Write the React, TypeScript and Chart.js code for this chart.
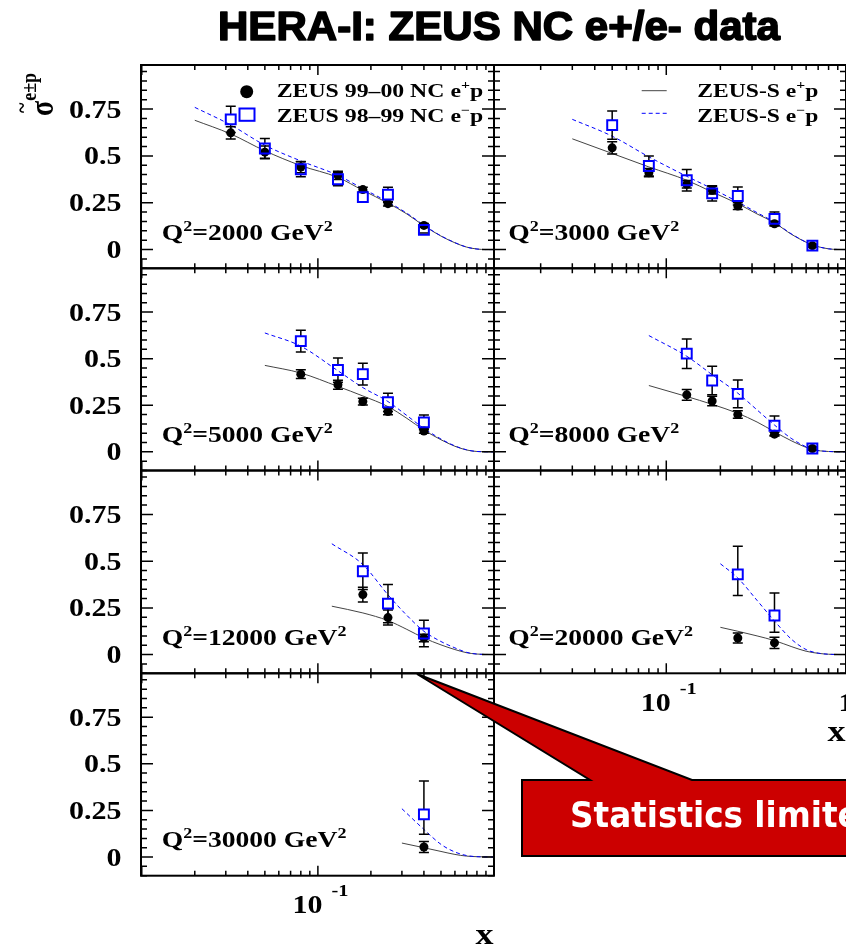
import React, { useEffect, useRef } from "react";
import { Chart, registerables } from "chart.js";

Chart.register(...registerables);

const PAGE_W = 846;
const PAGE_H = 944;

// ---------------- data ----------------
const Q2_LABELS = ["2000", "3000", "5000", "8000", "12000", "20000", "30000"];

// Q2 = 2000
const x1 = [0.032, 0.05, 0.08, 0.13, 0.18, 0.25, 0.4];
const ep1 = [0.623, 0.52, 0.44, 0.396, 0.32, 0.245, 0.129];
const epErr1 = [0.033, 0.033, 0.03, 0.022, 0.012, 0.012, 0.01];
const em1 = [0.695, 0.539, 0.429, 0.375, 0.28, 0.293, 0.105];
const emErr1 = [0.07, 0.054, 0.04, 0.035, 0.028, 0.04, 0.016];
const fitX1 = [0.02, 0.032, 0.05, 0.08, 0.13, 0.18, 0.25, 0.32, 0.4, 0.5, 0.6, 0.7, 0.8, 0.9, 1.0];
const fitEp1 = [0.69, 0.617, 0.527, 0.448, 0.385, 0.316, 0.248, 0.19, 0.127, 0.072, 0.036, 0.013, 0.003, 0.0, 0.0];
const fitEm1 = [0.759, 0.665, 0.557, 0.473, 0.396, 0.325, 0.254, 0.194, 0.13, 0.073, 0.037, 0.013, 0.003, 0.0, 0.0];

// Q2 = 3000
const x2 = [0.05, 0.08, 0.13, 0.18, 0.25, 0.4, 0.65];
const ep2 = [0.543, 0.41, 0.348, 0.316, 0.232, 0.138, 0.021];
const epErr2 = [0.033, 0.022, 0.02, 0.02, 0.018, 0.012, 0.006];
const em2 = [0.664, 0.446, 0.37, 0.3, 0.286, 0.164, 0.021];
const emErr2 = [0.075, 0.054, 0.057, 0.041, 0.048, 0.036, 0.008];
const fitX2 = [0.03, 0.05, 0.08, 0.13, 0.18, 0.25, 0.32, 0.4, 0.5, 0.65, 0.8, 0.9, 1.0];
const fitEp2 = [0.591, 0.513, 0.441, 0.37, 0.307, 0.245, 0.19, 0.143, 0.08, 0.025, 0.004, 0.0005, 0.0];
const fitEm2 = [0.695, 0.605, 0.495, 0.391, 0.325, 0.254, 0.197, 0.146, 0.082, 0.025, 0.004, 0.0005, 0.0];

// Q2 = 5000
const x3 = [0.08, 0.13, 0.18, 0.25, 0.4];
const ep3 = [0.417, 0.36, 0.27, 0.216, 0.112];
const epErr3 = [0.024, 0.024, 0.018, 0.017, 0.012];
const em3 = [0.594, 0.439, 0.417, 0.266, 0.158];
const emErr3 = [0.058, 0.065, 0.058, 0.049, 0.04];
const fitX3 = [0.05, 0.08, 0.13, 0.18, 0.25, 0.32, 0.4, 0.5, 0.6, 0.7, 0.8, 1.0];
const fitEp3 = [0.464, 0.423, 0.351, 0.3, 0.243, 0.18, 0.117, 0.065, 0.03, 0.01, 0.002, 0.0];
const fitEm3 = [0.638, 0.567, 0.435, 0.345, 0.27, 0.195, 0.126, 0.069, 0.032, 0.011, 0.002, 0.0];

// Q2 = 8000
const x4 = [0.13, 0.18, 0.25, 0.4, 0.65];
const ep4 = [0.306, 0.273, 0.2, 0.095, 0.018];
const epErr4 = [0.029, 0.025, 0.02, 0.01, 0.006];
const em4 = [0.527, 0.383, 0.311, 0.14, 0.018];
const emErr4 = [0.079, 0.077, 0.074, 0.052, 0.01];
const fitX4 = [0.08, 0.13, 0.18, 0.25, 0.32, 0.4, 0.5, 0.65, 0.8, 1.0];
const fitEp4 = [0.356, 0.297, 0.255, 0.207, 0.16, 0.108, 0.058, 0.013, 0.002, 0.0];
const fitEm4 = [0.624, 0.513, 0.414, 0.315, 0.225, 0.144, 0.07, 0.014, 0.002, 0.0];

// Q2 = 12000
const x5 = [0.18, 0.25, 0.4];
const ep5 = [0.321, 0.198, 0.089];
const epErr5 = [0.04, 0.04, 0.02];
const em5 = [0.446, 0.273, 0.113];
const emErr5 = [0.098, 0.102, 0.071];
const fitX5 = [0.12, 0.18, 0.25, 0.32, 0.4, 0.5, 0.6, 0.7, 0.8, 1.0];
const fitEp5 = [0.259, 0.223, 0.182, 0.135, 0.089, 0.052, 0.027, 0.01, 0.003, 0.0];
const fitEm5 = [0.593, 0.482, 0.32, 0.21, 0.125, 0.07, 0.036, 0.012, 0.003, 0.0];

// Q2 = 20000
const x6 = [0.25, 0.4];
const ep6 = [0.089, 0.063];
const epErr6 = [0.027, 0.03];
const em6 = [0.429, 0.209];
const emErr6 = [0.151, 0.121];
const emErrLo6 = [0.113, 0.09];
const fitX6 = [0.2, 0.25, 0.32, 0.4, 0.5, 0.6, 0.7, 0.8, 1.0];
const fitEp6 = [0.146, 0.125, 0.1, 0.075, 0.042, 0.018, 0.007, 0.002, 0.0];
const fitEm6 = [0.486, 0.41, 0.29, 0.18, 0.08, 0.027, 0.008, 0.002, 0.0];

// Q2 = 30000
const x7 = [0.4];
const ep7 = [0.054];
const epErr7 = [0.03];
const em7 = [0.229];
const emErr7 = [0.179];
const emErrLo7 = [0.107];
const fitX7 = [0.3, 0.4, 0.5, 0.6, 0.7, 0.8, 1.0];
const fitEp7 = [0.075, 0.05, 0.03, 0.014, 0.005, 0.002, 0.0];
const fitEm7 = [0.259, 0.148, 0.068, 0.027, 0.008, 0.002, 0.0];

const Y_TICK_LABELS = ["0", "0.25", "0.5", "0.75"];
const Y_TICK_VALUES = [0, 0.25, 0.5, 0.75];

// ---------------- layout / style ----------------
const COL_LEFT = [141, 494];
const COL_RIGHT = [494, 846];
const COL_XMIN = [0.0099, 0.011];
const ROW_TOP = [65, 268.3, 470.5, 673.3];
const ROW_BOTTOM = [268.3, 470.5, 673.3, 875.7];
const Y_MIN = -0.1;
const Y_MAX = 0.985;

const SERIF = '"Liberation Serif", "Times New Roman", serif';
const SANS_NARROW = '"Liberation Sans Narrow", "Liberation Sans", Arial, sans-serif';
const CALLOUT_FONT = '"Comic Sans MS", "DejaVu Sans", sans-serif';
const SX = 1.2;
const BLUE = "#0000ff";
const GRAY = "#444444";

type Panel = {
  q2: string;
  x: number[];
  ep: number[];
  epErr: number[];
  em: number[];
  emUp: number[];
  emDn: number[];
  fx: number[];
  fep: number[];
  fem: number[];
};

const PANELS: Panel[] = [
  { q2: Q2_LABELS[0], x: x1, ep: ep1, epErr: epErr1, em: em1, emUp: emErr1, emDn: emErr1, fx: fitX1, fep: fitEp1, fem: fitEm1 },
  { q2: Q2_LABELS[1], x: x2, ep: ep2, epErr: epErr2, em: em2, emUp: emErr2, emDn: emErr2, fx: fitX2, fep: fitEp2, fem: fitEm2 },
  { q2: Q2_LABELS[2], x: x3, ep: ep3, epErr: epErr3, em: em3, emUp: emErr3, emDn: emErr3, fx: fitX3, fep: fitEp3, fem: fitEm3 },
  { q2: Q2_LABELS[3], x: x4, ep: ep4, epErr: epErr4, em: em4, emUp: emErr4, emDn: emErr4, fx: fitX4, fep: fitEp4, fem: fitEm4 },
  { q2: Q2_LABELS[4], x: x5, ep: ep5, epErr: epErr5, em: em5, emUp: emErr5, emDn: emErr5, fx: fitX5, fep: fitEp5, fem: fitEm5 },
  { q2: Q2_LABELS[5], x: x6, ep: ep6, epErr: epErr6, em: em6, emUp: emErr6, emDn: emErrLo6, fx: fitX6, fep: fitEp6, fem: fitEm6 },
  { q2: Q2_LABELS[6], x: x7, ep: ep7, epErr: epErr7, em: em7, emUp: emErr7, emDn: emErrLo7, fx: fitX7, fep: fitEp7, fem: fitEm7 },
];

// ---------------- text helpers ----------------
type Part = { t: string; sup?: boolean };
type RichOpts = {
  fs: number;
  supFs?: number;
  supRise?: number;
  family?: string;
  weight?: string;
  sx?: number;
  fit?: number;
  align?: "left" | "right" | "center";
  color?: string;
  stroke?: number;
};

function drawRich(ctx: CanvasRenderingContext2D, parts: Part[], x: number, y: number, o: RichOpts) {
  const family = o.family || SERIF;
  const weight = o.weight || "bold";
  const supFs = o.supFs || Math.round(o.fs * 0.65);
  const supRise = o.supRise ?? o.fs * 0.4;
  ctx.save();
  const widths: number[] = [];
  let w = 0;
  for (const p of parts) {
    ctx.font = `${weight} ${p.sup ? supFs : o.fs}px ${family}`;
    const m = ctx.measureText(p.t).width;
    widths.push(m);
    w += m;
  }
  const sx = o.fit ? o.fit / w : o.sx ?? SX;
  const total = w * sx;
  const x0 = o.align === "right" ? x - total : o.align === "center" ? x - total / 2 : x;
  ctx.translate(x0, y);
  ctx.scale(sx, 1);
  ctx.fillStyle = o.color || "#000";
  ctx.strokeStyle = o.color || "#000";
  ctx.textAlign = "left";
  ctx.textBaseline = "alphabetic";
  let cx = 0;
  parts.forEach((p, i) => {
    ctx.font = `${weight} ${p.sup ? supFs : o.fs}px ${family}`;
    const yy = p.sup ? -supRise : 0;
    ctx.fillText(p.t, cx, yy);
    if (o.stroke) {
      ctx.lineWidth = o.stroke;
      ctx.lineJoin = "round";
      ctx.strokeText(p.t, cx, yy);
    }
    cx += widths[i];
  });
  ctx.restore();
}

// ---------------- drawing helpers ----------------
function drawErrors(chart: any, xs: number[], ys: number[], up: number[], dn: number[], gap: number) {
  const ctx: CanvasRenderingContext2D = chart.ctx;
  const xS = chart.scales.x;
  const yS = chart.scales.y;
  ctx.save();
  ctx.strokeStyle = "#000";
  ctx.lineWidth = 1.5;
  for (let i = 0; i < xs.length; i++) {
    const px = xS.getPixelForValue(xs[i]);
    const py = yS.getPixelForValue(ys[i]);
    const pt = yS.getPixelForValue(ys[i] + up[i]);
    const pb = yS.getPixelForValue(ys[i] - dn[i]);
    ctx.beginPath();
    if (py - gap > pt) {
      ctx.moveTo(px, pt);
      ctx.lineTo(px, py - gap);
    }
    if (py + gap < pb) {
      ctx.moveTo(px, py + gap);
      ctx.lineTo(px, pb);
    }
    ctx.moveTo(px - 5, pt);
    ctx.lineTo(px + 5, pt);
    ctx.moveTo(px - 5, pb);
    ctx.lineTo(px + 5, pb);
    ctx.stroke();
  }
  ctx.restore();
}

function drawFrame(chart: any, xmin: number) {
  const ctx: CanvasRenderingContext2D = chart.ctx;
  const a = chart.chartArea;
  const xS = chart.scales.x;
  const yS = chart.scales.y;
  ctx.save();
  ctx.strokeStyle = "#000";
  ctx.lineWidth = 1.5;
  ctx.beginPath();
  for (let k = -2; k <= 19; k++) {
    const v = k * 0.05;
    if (v < Y_MIN - 1e-9 || v > Y_MAX + 1e-9) continue;
    const py = yS.getPixelForValue(v);
    const len = k % 5 === 0 ? 12 : 6;
    ctx.moveTo(a.left, py);
    ctx.lineTo(a.left + len, py);
    ctx.moveTo(a.right, py);
    ctx.lineTo(a.right - len, py);
  }
  for (let e = -2; e <= 0; e++) {
    for (let m = 1; m <= 9; m++) {
      const v = m * Math.pow(10, e);
      if (v < xmin - 1e-12 || v > 1.0001) continue;
      const px = xS.getPixelForValue(v);
      const len = m === 1 ? 10 : 5;
      ctx.moveTo(px, a.bottom);
      ctx.lineTo(px, a.bottom - len);
      ctx.moveTo(px, a.top);
      ctx.lineTo(px, a.top + len);
    }
  }
  ctx.stroke();
  ctx.lineWidth = 2;
  ctx.strokeRect(a.left, a.top, a.right - a.left, a.bottom - a.top);
  ctx.restore();
}

function drawYLabels(chart: any) {
  const ctx: CanvasRenderingContext2D = chart.ctx;
  const yS = chart.scales.y;
  Y_TICK_VALUES.forEach((v, i) => {
    const py = yS.getPixelForValue(v);
    drawRich(ctx, [{ t: Y_TICK_LABELS[i] }], 121.5, py + 8.5, { fs: 25, align: "right" });
  });
}

function drawXLabels(chart: any, col: number) {
  const ctx: CanvasRenderingContext2D = chart.ctx;
  const a = chart.chartArea;
  const xS = chart.scales.x;
  const t = xS.getPixelForValue(0.1);
  drawRich(ctx, [{ t: "10" }], t + 4.5, a.bottom + 37.5, { fs: 25, align: "right" });
  drawRich(ctx, [{ t: "-1" }], t + 13.5, a.bottom + 20.5, { fs: 17, align: "left" });
  if (col === 1) {
    drawRich(ctx, [{ t: "1" }], xS.getPixelForValue(1), a.bottom + 37.5, { fs: 25, align: "center" });
  }
  drawRich(ctx, [{ t: "x" }], a.right - 0.5, a.bottom + 68, { fs: 30, align: "right" });
}

function drawQ2(chart: any, col: number, q2: string) {
  const ctx: CanvasRenderingContext2D = chart.ctx;
  const a = chart.chartArea;
  const x0 = col === 0 ? 161.7 : 508.3;
  drawRich(
    ctx,
    [{ t: "Q" }, { t: "2", sup: true }, { t: `=${q2} GeV` }, { t: "2", sup: true }],
    x0,
    a.bottom - 28.8,
    { fs: 23, supFs: 15, supRise: 9 }
  );
}

function drawTitle(ctx: CanvasRenderingContext2D) {
  drawRich(ctx, [{ t: "HERA-I: ZEUS NC e+/e- data" }], 218, 40, {
    fs: 41,
    family: SANS_NARROW,
    weight: "bold",
    fit: 562,
    stroke: 1.6,
  });
}

function drawYTitle(ctx: CanvasRenderingContext2D) {
  ctx.save();
  ctx.translate(53, 116);
  ctx.rotate(-Math.PI / 2);
  ctx.scale(1, 1.2);
  ctx.fillStyle = "#000";
  ctx.textBaseline = "alphabetic";
  ctx.textAlign = "left";
  ctx.font = `bold 28px ${SERIF}`;
  ctx.fillText("σ", 0, 0);
  const sw = ctx.measureText("σ").width;
  ctx.font = `bold 18px ${SERIF}`;
  ctx.fillText("e±p", sw, -14);
  ctx.font = `bold 20px ${SERIF}`;
  ctx.fillText("~", 3, -20);
  ctx.restore();
}

function drawLegendData(ctx: CanvasRenderingContext2D) {
  ctx.save();
  ctx.fillStyle = "#000";
  ctx.beginPath();
  ctx.arc(246.7, 91.7, 6.5, 0, Math.PI * 2);
  ctx.fill();
  ctx.strokeStyle = BLUE;
  ctx.lineWidth = 2;
  ctx.strokeRect(239.5, 108.5, 15, 12.3);
  ctx.restore();
  drawRich(ctx, [{ t: "ZEUS 99–00 NC e" }, { t: "+", sup: true }, { t: "p" }], 276.7, 96.7, {
    fs: 18,
    supFs: 12,
    supRise: 7.5,
    fit: 206.5,
  });
  drawRich(ctx, [{ t: "ZEUS 98–99 NC e" }, { t: "−", sup: true }, { t: "p" }], 276.7, 121.7, {
    fs: 18,
    supFs: 12,
    supRise: 7.5,
    fit: 206.5,
  });
}

function drawLegendFit(ctx: CanvasRenderingContext2D) {
  ctx.save();
  ctx.lineWidth = 1;
  ctx.strokeStyle = GRAY;
  ctx.beginPath();
  ctx.moveTo(641.7, 90.7);
  ctx.lineTo(666.7, 90.7);
  ctx.stroke();
  ctx.strokeStyle = BLUE;
  ctx.setLineDash([4, 3]);
  ctx.beginPath();
  ctx.moveTo(641.7, 113.3);
  ctx.lineTo(666.7, 113.3);
  ctx.stroke();
  ctx.restore();
  drawRich(ctx, [{ t: "ZEUS-S e" }, { t: "+", sup: true }, { t: "p" }], 697.3, 96.7, {
    fs: 18,
    supFs: 12,
    supRise: 7.5,
    fit: 121,
  });
  drawRich(ctx, [{ t: "ZEUS-S e" }, { t: "−", sup: true }, { t: "p" }], 697.3, 121.7, {
    fs: 18,
    supFs: 12,
    supRise: 7.5,
    fit: 121,
  });
}

function drawCallout(ctx: CanvasRenderingContext2D) {
  ctx.save();
  ctx.beginPath();
  ctx.moveTo(522, 780);
  ctx.lineTo(590, 780);
  ctx.lineTo(417, 674);
  ctx.lineTo(692, 780);
  ctx.lineTo(852, 780);
  ctx.lineTo(852, 856);
  ctx.lineTo(522, 856);
  ctx.closePath();
  ctx.fillStyle = "#cc0000";
  ctx.fill();
  ctx.lineWidth = 2;
  ctx.lineJoin = "miter";
  ctx.strokeStyle = "#000";
  ctx.stroke();
  ctx.font = `bold 36px ${CALLOUT_FONT}`;
  const w = ctx.measureText("Statistics").width;
  const sx = 173 / w;
  ctx.translate(570, 826.5);
  ctx.scale(sx, 1);
  ctx.fillStyle = "#ffffff";
  ctx.textAlign = "left";
  ctx.textBaseline = "alphabetic";
  ctx.fillText("Statistics limited", 0, 0);
  ctx.restore();
}

// ---------------- chart config ----------------
function makeConfig(p: Panel, idx: number): any {
  const col = idx % 2;
  const row = Math.floor(idx / 2);
  const xmin = COL_XMIN[col];
  const pts = (xs: number[], ys: number[]) => xs.map((x, i) => ({ x, y: ys[i] }));

  const plugin = {
    id: "panel" + idx,
    beforeDatasetDraw(chart: any, args: any) {
      const ds = chart.data.datasets[args.index];
      if (ds.errKind === "em") drawErrors(chart, p.x, p.em, p.emUp, p.emDn, 5);
      if (ds.errKind === "ep") drawErrors(chart, p.x, p.ep, p.epErr, p.epErr, 0);
    },
    afterDraw(chart: any) {
      const ctx: CanvasRenderingContext2D = chart.ctx;
      drawFrame(chart, xmin);
      if (col === 0) drawYLabels(chart);
      drawQ2(chart, col, p.q2);
      if (idx === 5 || idx === 6) drawXLabels(chart, col);
      if (idx === 0) {
        drawTitle(ctx);
        drawYTitle(ctx);
        drawLegendData(ctx);
      }
      if (idx === 1) drawLegendFit(ctx);
      if (idx === 6) drawCallout(ctx);
    },
  };

  return {
    type: "line",
    data: {
      datasets: [
        {
          label: "ZEUS 98-99 NC e-p",
          data: pts(p.x, p.em),
          showLine: false,
          pointStyle: "rect",
          pointRadius: 7,
          pointBorderWidth: 2,
          pointBorderColor: BLUE,
          pointBackgroundColor: "rgba(0,0,0,0)",
          order: 0,
          errKind: "em",
        },
        {
          label: "ZEUS 99-00 NC e+p",
          data: pts(p.x, p.ep),
          showLine: false,
          pointStyle: "circle",
          pointRadius: 4.5,
          pointBorderWidth: 0,
          pointBackgroundColor: "#000",
          pointBorderColor: "#000",
          order: 1,
          errKind: "ep",
        },
        {
          label: "ZEUS-S e-p",
          data: pts(p.fx, p.fem),
          borderColor: BLUE,
          borderWidth: 1,
          borderDash: [4, 3],
          pointRadius: 0,
          fill: false,
          cubicInterpolationMode: "monotone",
          order: 2,
        },
        {
          label: "ZEUS-S e+p",
          data: pts(p.fx, p.fep),
          borderColor: GRAY,
          borderWidth: 1,
          pointRadius: 0,
          fill: false,
          cubicInterpolationMode: "monotone",
          order: 3,
        },
      ],
    },
    options: {
      animation: false,
      responsive: false,
      maintainAspectRatio: false,
      events: [],
      devicePixelRatio: 1,
      layout: {
        autoPadding: false,
        padding: {
          left: COL_LEFT[col],
          right: PAGE_W - COL_RIGHT[col],
          top: ROW_TOP[row],
          bottom: PAGE_H - ROW_BOTTOM[row],
        },
      },
      scales: {
        x: { type: "logarithmic", min: xmin, max: 1, display: false },
        y: { type: "linear", min: Y_MIN, max: Y_MAX, display: false },
      },
      plugins: {
        legend: { display: false },
        tooltip: { enabled: false },
        title: { display: false },
      },
    },
    plugins: [plugin],
  };
}

function PanelChart({ p, idx }: { p: Panel; idx: number }) {
  const ref = useRef<HTMLCanvasElement>(null);
  useEffect(() => {
    if (!ref.current) return;
    const chart = new Chart(ref.current, makeConfig(p, idx));
    return () => chart.destroy();
  }, [p, idx]);
  return (
    <canvas
      ref={ref}
      width={PAGE_W}
      height={PAGE_H}
      style={{ position: "absolute", left: 0, top: 0, width: PAGE_W, height: PAGE_H, pointerEvents: "none" }}
    />
  );
}

export default function App() {
  return (
    <div
      style={{
        position: "absolute",
        left: 0,
        top: 0,
        width: PAGE_W,
        height: PAGE_H,
        background: "#ffffff",
        overflow: "hidden",
      }}
    >
      {PANELS.map((p, i) => (
        <PanelChart key={i} p={p} idx={i} />
      ))}
    </div>
  );
}
